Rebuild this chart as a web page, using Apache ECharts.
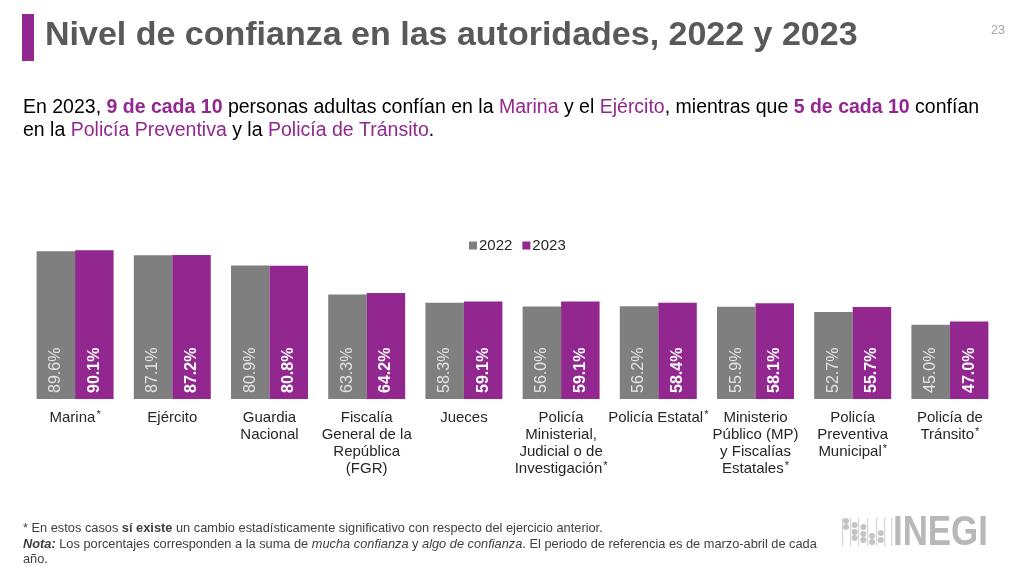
<!DOCTYPE html>
<html>
<head>
<meta charset="utf-8">
<script src="https://cdn.jsdelivr.net/npm/echarts@6/dist/echarts.min.js"></script>
<style>
  html, body { margin: 0; padding: 0; background: #fff; }
  #chart { width: 1024px; height: 571px; }
</style>
</head>
<body>
<div id="chart"></div>
<script>
const categories = [
  'Marina', 'Ejército', 'Guardia\nNacional', 'Fiscalía\nGeneral de la\nRepública\n(FGR)', 'Jueces',
  'Policía\nMinisterial,\nJudicial o de\nInvestigación', 'Policía Estatal',
  'Ministerio\nPúblico (MP)\ny Fiscalías\nEstatales', 'Policía\nPreventiva\nMunicipal', 'Policía de\nTránsito'
];
// cambio estadísticamente significativo (*)
const significant = [true, false, false, false, false, true, true, true, true, true];
const values2022 = [89.6, 87.1, 80.9, 63.3, 58.3, 56.0, 56.2, 55.9, 52.7, 45.0];
const values2023 = [90.1, 87.2, 80.8, 64.2, 59.1, 59.1, 58.4, 58.1, 55.7, 47.0];

const GRAY = '#7f7f7f';
const PURPLE = '#92278f';
const FONT = 'Liberation Sans, Arial, sans-serif';

const chart = echarts.init(document.getElementById('chart'));

const option = {
  backgroundColor: '#fff',
  textStyle: { fontFamily: FONT },
  animation: false,
  grid: { left: 26.5, right: 25.5, top: 234, bottom: 172, containLabel: false },
  legend: {
    data: ['2022', '2023'],
    left: 469, top: 238, padding: 0,
    itemWidth: 8, itemHeight: 8, itemGap: 10,
    icon: 'rect',
    textStyle: { fontSize: 15, color: '#262626', fontFamily: FONT, padding: [0, 0, 0, -3] }
  },
  xAxis: {
    type: 'category',
    data: categories,
    axisLine: { show: false },
    axisTick: { show: false },
    axisLabel: {
      interval: 0,
      margin: 10,
      fontSize: 15,
      lineHeight: 17,
      color: '#262626',
      fontFamily: FONT,
      formatter: (v, i) => significant[i] ? v + '{s|*}' : v,
      rich: {
        s: { fontSize: 11, lineHeight: 17, verticalAlign: 'top', color: '#262626', padding: [0, 0, 6, 1] }
      }
    }
  },
  yAxis: {
    type: 'value', min: 0, max: 100,
    show: false,
    splitLine: { show: false }
  },
  series: [
    {
      name: '2022', type: 'bar', data: values2022,
      barWidth: '39.6%', barGap: '0%',
      itemStyle: { color: GRAY },
      label: {
        show: true, position: 'insideBottom', rotate: 90, align: 'left', verticalAlign: 'middle',
        distance: 6, fontSize: 16, color: '#e3e3e3', fontFamily: FONT,
        formatter: p => p.value.toFixed(1) + '%'
      }
    },
    {
      name: '2023', type: 'bar', data: values2023,
      barWidth: '39.6%', barGap: '0%',
      itemStyle: { color: PURPLE },
      label: {
        show: true, position: 'insideBottom', rotate: 90, align: 'left', verticalAlign: 'middle',
        distance: 6, fontSize: 16, fontWeight: 'bold', color: '#fff', fontFamily: FONT,
        formatter: p => p.value.toFixed(1) + '%'
      }
    }
  ],
  graphic: [
    { type: 'rect', shape: { x: 22, y: 14, width: 12, height: 47 }, style: { fill: PURPLE } },
    {
      type: 'text', x: 45, y: 36,
      style: {
        text: 'Nivel de confianza en las autoridades, 2022 y 2023',
        font: 'bold 34px ' + FONT, fill: '#595959', verticalAlign: 'middle'
      }
    },
    {
      type: 'text', x: 991, y: 31,
      style: { text: '23', font: '12.5px ' + FONT, fill: '#a6a6a6', verticalAlign: 'middle' }
    },
    {
      type: 'text', x: 23, y: 96.5,
      style: {
        text: 'En 2023, {b|9 de cada 10} personas adultas confían en la {p|Marina} y el {p|Ejército}, mientras que {b|5 de cada 10} confían\n' +
              'en la {p|Policía Preventiva} y la {p|Policía de Tránsito}.',
        font: '19.5px ' + FONT, fill: '#000', lineHeight: 23,
        rich: {
          b: { font: 'bold 19.5px ' + FONT, fill: PURPLE, lineHeight: 23 },
          p: { font: '19.5px ' + FONT, fill: PURPLE, lineHeight: 23 }
        }
      }
    },
    {
      type: 'text', x: 23, y: 521,
      style: {
        text: '* En estos casos {b|sí existe} un cambio estadísticamente significativo con respecto del ejercicio anterior.\n' +
              '{bi|Nota:} Los porcentajes corresponden a la suma de {i|mucha confianza} y {i|algo de confianza}. El periodo de referencia es de marzo-abril de cada\n' +
              'año.',
        font: '12.8px ' + FONT, fill: '#404040', lineHeight: 15.5,
        rich: {
          b: { font: 'bold 12.8px ' + FONT, fill: '#404040', lineHeight: 15.5 },
          bi: { font: 'italic bold 12.8px ' + FONT, fill: '#404040', lineHeight: 15.5 },
          i: { font: 'italic 12.8px ' + FONT, fill: '#404040', lineHeight: 15.5 }
        }
      }
    },
    {
      type: 'text', x: 893, y: 533, scaleX: 0.83,
      style: { text: 'INEGI', font: 'bold 42px ' + FONT, fill: '#b8b8b8', verticalAlign: 'middle' }
    }
  ]
};

// INEGI logo mark: thin rules with a staircase of dots
[842, 850, 858, 867, 876, 884, 891].forEach(x => {
  option.graphic.push({
    type: 'rect', shape: { x: x, y: 518, width: 1.2, height: 28 }, style: { fill: '#d6d6d6' }
  });
});
const dotCols = [[521, 527], [525, 532, 538], [527, 534, 540], [536, 542], [533, 540]];
dotCols.forEach((ys, c) => {
  ys.forEach(y => {
    option.graphic.push({
      type: 'circle',
      shape: { cx: 846 + c * 8.7, cy: y, r: 3 },
      style: { fill: '#c4c4c4' }
    });
  });
});

chart.setOption(option);
</script>
</body>
</html>
